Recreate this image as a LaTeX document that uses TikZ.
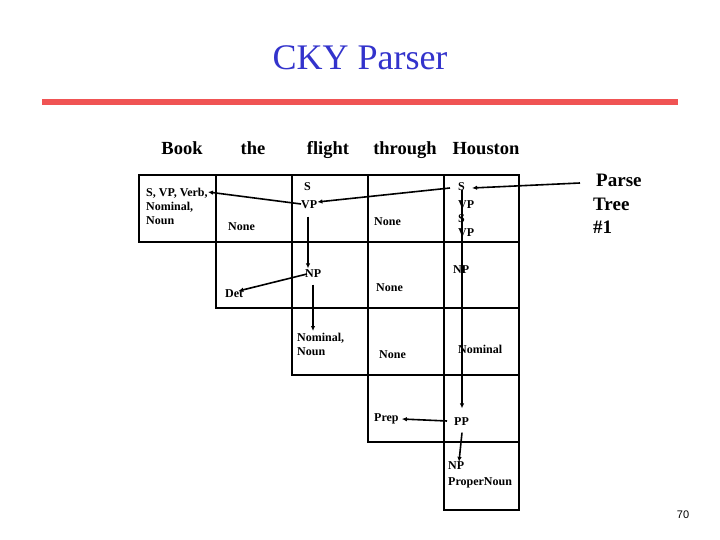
\documentclass[tikz,border=0pt]{standalone}
\usepackage{fontspec}
\setmainfont{Liberation Serif}
\newfontfamily\pagefont{Liberation Sans}
\usetikzlibrary{arrows.meta}
\definecolor{titleblue}{RGB}{51,51,204}
\definecolor{barred}{RGB}{240,84,84}
\begin{document}
\begin{tikzpicture}[x=1pt,y=-1pt,
  cell/.style={line width=2.6pt},
  lbl/.style={font=\bfseries\fontsize{12}{13.8}\selectfont, inner sep=0pt, anchor=west, align=left},
  hdr/.style={font=\bfseries\fontsize{18.5}{20}\selectfont, inner sep=0pt, anchor=base},
  arr/.style={line width=1.6pt, -{Latex[length=5pt,width=4.5pt]}},
  ]
\useasboundingbox[fill=white] (0,0) rectangle (720,540);

% title and bar
\node[text=titleblue, font=\fontsize{36}{40}\selectfont, inner sep=0pt] (title) at (360,58) {CKY Parser};
\coordinate (barL) at (42,102);
\coordinate (barR) at (678,102);
\draw[line width=6.5pt, barred] (barL) -- (barR);

% header words
\node[hdr] (wBook) at (182,155) {Book};
\node[hdr] (wthe) at (253,155) {the};
\node[hdr] (wflight) at (328,155) {flight};
\node[hdr] (wthrough) at (405,155) {through};
\node[hdr] (wHouston) at (486,155) {Houston};

% grid cells
\draw[cell] (139,175) rectangle (216,242);
\draw[cell] (216,175) rectangle (292,242);
\draw[cell] (292,175) rectangle (368,242);
\draw[cell] (368,175) rectangle (444,242);
\draw[cell] (444,175) rectangle (519,242);
\draw[cell] (216,242) rectangle (292,308);
\draw[cell] (292,242) rectangle (368,308);
\draw[cell] (368,242) rectangle (444,308);
\draw[cell] (444,242) rectangle (519,308);
\draw[cell] (292,308) rectangle (368,375);
\draw[cell] (368,308) rectangle (444,375);
\draw[cell] (444,308) rectangle (519,375);
\draw[cell] (368,375) rectangle (444,442);
\draw[cell] (444,375) rectangle (519,442);
\draw[cell] (444,442) rectangle (519,510);

% cell contents
\node[lbl, anchor=north west] (c11) at (146,188) {S, VP, Verb,\\Nominal,\\Noun};
\node[lbl] (c12) at (228,227) {None};
\node[lbl] (s13) at (304,187) {S};
\node[lbl] (vp13) at (301,205) {VP};
\node[lbl] (c14) at (374,222) {None};
\node[lbl] (s15) at (458,187) {S};
\node[lbl] (vp15) at (458,205) {VP};
\node[lbl] (s15b) at (458,219) {S};
\node[lbl] (vp15b) at (458,233) {VP};
\node[lbl] (det) at (225,294) {Det};
\node[lbl] (np23) at (305,274) {NP};
\node[lbl] (c24) at (376,288) {None};
\node[lbl] (np25) at (453,270) {NP};
\node[lbl, anchor=north west] (nom33) at (297,333) {Nominal,\\Noun};
\node[lbl] (c34) at (379,355) {None};
\node[lbl] (nom35) at (458,349) {Nominal};
\node[lbl] (prep) at (374,419) {Prep};
\node[lbl] (pp) at (454,422) {PP};
\node[lbl] (np55) at (448,466) {NP};
\node[lbl] (pn55) at (448,483) {ProperNoun};

% parse tree label
\node[lbl, font=\bfseries\fontsize{19}{23.5}\selectfont, anchor=north west] (parse) at (593,174) {\hspace{3pt}Parse\\Tree\\\#1};
\node[font=\pagefont\fontsize{11}{12}\selectfont, inner sep=0pt] (pg) at (683,515) {70};

% connectors (yshift is in page direction: positive = up)
\coordinate (ptail) at (580,183);
\draw[arr] (ptail) -- ([xshift=7pt,yshift=-1pt]s15.east);
\draw[arr] ([xshift=-8pt,yshift=-1pt]s15.west) -- ([yshift=3pt]vp13.east);
\draw[arr] ([yshift=1pt]vp13.west) -- (208,192) coordinate (verbtip);
\draw[arr] ([xshift=7pt,yshift=-7.5pt]vp13.south west) -- ([xshift=3pt,yshift=1.5pt]np23.north west);
\draw[arr] ([xshift=2pt]np23.west) -- ([xshift=-5pt,yshift=3pt]det.east);
\draw[arr] ([xshift=8pt,yshift=-6.5pt]np23.south west) -- ([xshift=16pt,yshift=2pt]nom33.north west);
\draw[arr] ([xshift=4pt,yshift=1.5pt]s15.south west) -- ([xshift=8pt,yshift=9.5pt]pp.north west);
\draw[arr] ([xshift=-7pt,yshift=1pt]pp.west) -- ([xshift=3pt]prep.east);
\draw[arr] ([xshift=8pt,yshift=-6.5pt]pp.south west) -- ([xshift=11pt]np55.north west);
\end{tikzpicture}
\end{document}
